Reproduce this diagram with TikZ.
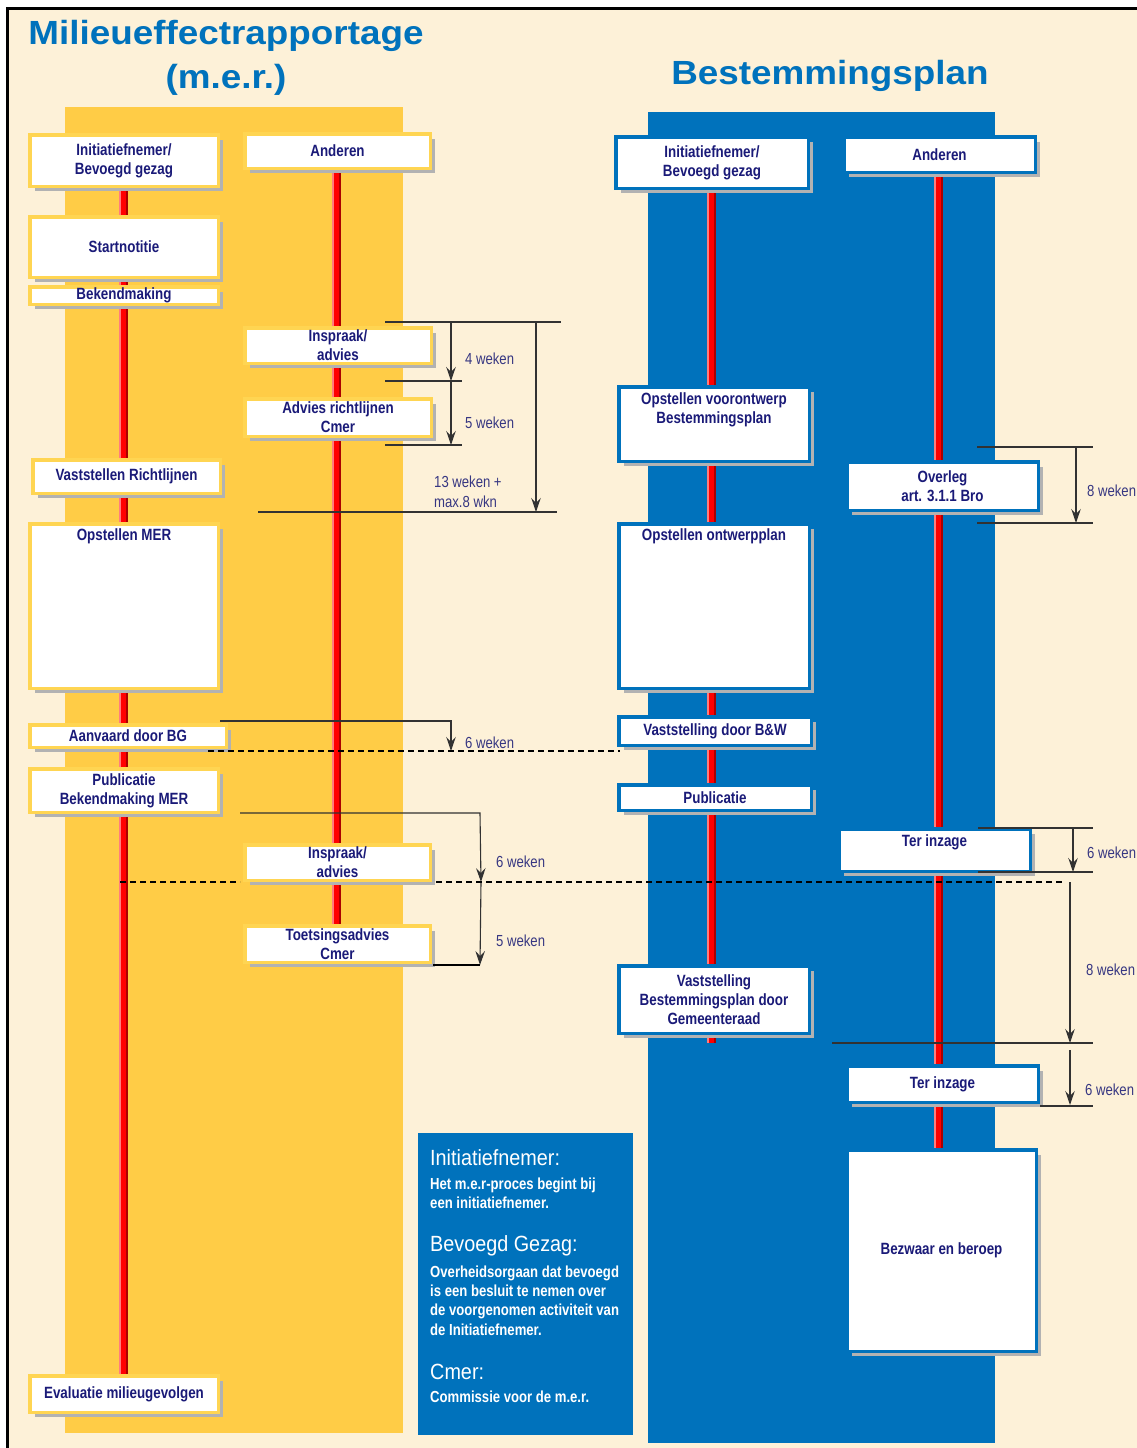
\documentclass[tikz,border=0pt]{standalone}
\usepackage{fontspec}
\setmainfont{Liberation Sans}
\newfontfamily\nf[FakeStretch=0.82]{Liberation Sans}
\newfontfamily\tf[FakeStretch=1.1]{Liberation Sans}
\newfontfamily\lf[FakeStretch=0.9]{Liberation Sans}
\usetikzlibrary{shadows,arrows.meta}
\definecolor{cream}{RGB}{253,241,216}
\definecolor{ycol}{RGB}{255,204,70}
\definecolor{yedge}{RGB}{255,213,82}
\definecolor{bcol}{RGB}{0,114,188}
\definecolor{navy}{RGB}{26,26,120}
\definecolor{wkc}{RGB}{55,55,130}
\definecolor{shade}{RGB}{178,178,178}
\definecolor{rline}{RGB}{255,0,0}
\definecolor{rdark}{RGB}{170,0,0}
\definecolor{rpink}{RGB}{255,125,125}
\definecolor{dimc}{RGB}{50,50,50}
\pgfdeclarelayer{back}
\pgfsetlayers{back,main}
\begin{document}
\begin{tikzpicture}[x=1pt,y=-1pt,
 procbox/.style={fill=white, line width=3.5pt, inner sep=1pt, align=center, text=navy,
   font=\nf\bfseries\fontsize{16.3}{19}\selectfont,
   drop shadow={shadow xshift=5pt, shadow yshift=-5pt, fill=shade, opacity=1}},
 ybox/.style={procbox, draw=yedge},
 bbox/.style={procbox, draw=bcol},
 btext/.style={inner sep=0pt, text=navy, font=\nf\bfseries\fontsize{16.3}{19}\selectfont, align=center, anchor=north},
 redlane/.style={line width=7pt, draw=rline,
   preaction={draw=rpink, line width=9pt, transform canvas={xshift=-1pt}},
   postaction={draw=rdark, line width=2pt, transform canvas={xshift=2.5pt}}},
 dim/.style={draw=dimc, line width=1.1pt},
 dimarr/.style={dim, -{Stealth[length=14pt,width=9.5pt,inset=5pt]}},
 cutline/.style={draw=black, line width=1.3pt, dash pattern=on 6pt off 4pt},
 wk/.style={text=wkc, font=\nf\fontsize{16}{20}\selectfont, anchor=west, inner sep=0pt, align=left},
 ttl/.style={text=bcol, font=\tf\bfseries\fontsize{33.5}{38}\selectfont, inner sep=0pt},
 lhead/.style={text=white, font=\lf\fontsize{22}{24}\selectfont, anchor=west, inner sep=0pt},
 lbody/.style={text=white, font=\nf\bfseries\fontsize{16}{19.3}\selectfont, anchor=west, inner sep=0pt, align=left},
]
\useasboundingbox (0,0) rectangle (1137,1448);
\begin{pgfonlayer}{back}
\fill[white] (0,0) rectangle (1137,1448);
\fill[cream] (8,9) rectangle (1137,1448);
\draw[black, line width=3pt] (7.5,1448) -- (7.5,8.5) -- (1137,8.5);
\fill[ycol] (65,107) rectangle (403,1433);
\fill[bcol] (648,112) rectangle (995,1443);
\fill[bcol] (418,1133) rectangle (633,1435);
\end{pgfonlayer}

% titles
\node[ttl] (t1) at (226,36) {Milieueffectrapportage};
\node[ttl] (t2) at (226,80) {(m.e.r.)};
\node[ttl] (t3) at (830,76) {Bestemmingsplan};

% left (m.e.r.) boxes
\node[ybox, minimum width=188.5, minimum height=51.5] (li1) at (124,160.5) {Initiatiefnemer/\\Bevoegd gezag};
\node[ybox, minimum width=185.5, minimum height=34.5] (la1) at (337.5,151) {Anderen};
\node[ybox, minimum width=188.5, minimum height=60.5] (ls) at (124,247) {Startnotitie};
\node[ybox, minimum width=188.5, minimum height=17.5] (lb) at (124,295.5) {Bekendmaking};
\node[ybox, minimum width=186.5, minimum height=35.5] (li) at (338,345.5) {Inspraak/\\advies};
\node[ybox, minimum width=186.5, minimum height=37.5] (lar) at (338,417.5) {Advies richtlijnen\\Cmer};
\node[ybox, minimum width=187.5, minimum height=33.5] (lvr) at (126.5,476.5) {Vaststellen Richtlijnen};
\node[ybox, minimum width=188.5, minimum height=164.5] (lom) at (124,606) {};
\node[btext] (lomt) at ([yshift=-6pt]lom.north) {Opstellen MER};
\node[ybox, minimum width=196.5, minimum height=22.5] (laa) at (128,736) {Aanvaard door BG};
\node[ybox, minimum width=188.5, minimum height=43.5] (lpb) at (124,790.5) {Publicatie\\Bekendmaking MER};
\node[ybox, minimum width=185.5, minimum height=35.5] (li2) at (337.5,862.5) {Inspraak/\\advies};
\node[ybox, minimum width=185.5, minimum height=36.5] (lt) at (337.5,944) {Toetsingsadvies\\Cmer};
\node[ybox, minimum width=188.5, minimum height=36.5] (lev) at (124,1394) {Evaluatie milieugevolgen};

% right (bestemmingsplan) boxes
\node[bbox, minimum width=192.5, minimum height=51.5] (ri1) at (712,162.5) {Initiatiefnemer/\\Bevoegd gezag};
\node[bbox, minimum width=191.5, minimum height=35.5] (ra1) at (939.5,154.5) {Anderen};
\node[bbox, minimum width=190.5, minimum height=74.5] (rov) at (714,424) {};
\node[btext] (rovt) at ([yshift=-7pt]rov.north) {Opstellen voorontwerp\\Bestemmingsplan};
\node[bbox, minimum width=191.5, minimum height=48.5] (rol) at (942.5,486) {Overleg\\art. 3.1.1 Bro};
\node[bbox, minimum width=190.5, minimum height=164.5] (rop) at (714,606) {};
\node[btext] (ropt) at ([yshift=-6pt]rop.north) {Opstellen ontwerpplan};
\node[bbox, minimum width=192.5, minimum height=28.5] (rvb) at (715,731) {Vaststelling door B\&W};
\node[bbox, minimum width=192.5, minimum height=25.5] (rpu) at (715,797.5) {Publicatie};
\node[bbox, minimum width=191.5, minimum height=42.5] (rti) at (934.5,850) {};
\node[btext] (rtit) at ([yshift=-7pt]rti.north) {Ter inzage};
\node[bbox, minimum width=190.5, minimum height=67.5] (rvg) at (714,999.5) {Vaststelling\\Bestemmingsplan door\\Gemeenteraad};
\node[bbox, minimum width=191.5, minimum height=36.5] (rti2) at (942.5,1084) {Ter inzage};
\node[bbox, minimum width=189.5, minimum height=201.5] (rbb) at (941.5,1250.5) {Bezwaar en beroep};

% red lanes (behind boxes)
\coordinate (r1end) at ([yshift=-8pt]rvg.south);
\begin{pgfonlayer}{back}
\draw[redlane] (li1.south) -- (li1.south |- lev.north);
\draw[redlane] (la1.south) -- (la1.south |- lt.north);
\draw[redlane] (ri1.south) -- (ri1.south |- r1end);
\draw[redlane] (ra1.south) -- (ra1.south |- rbb.north);
\end{pgfonlayer}

% legend
\node[lhead] (lg1) at (430,1158) {Initiatiefnemer:};
\node[lbody] (lg2) at (430,1193) {Het m.e.r-proces begint bij\\een initiatiefnemer.};
\node[lhead] (lg3) at (430,1246) {Bevoegd Gezag:};
\node[lbody] (lg4) at (430,1300.5) {Overheidsorgaan dat bevoegd\\is een besluit te nemen over\\de voorgenomen activiteit van\\de Initiatiefnemer.};
\node[lhead] (lg5) at (430,1372) {Cmer:};
\node[lbody] (lg6) at (430,1397) {Commissie voor de m.e.r.};

% dimension lines, left part
\coordinate (d1l) at (385,322); \coordinate (d1r) at (561,322);
\coordinate (d2l) at (385,381); \coordinate (d2r) at (462,381);
\coordinate (d3l) at (385,445); \coordinate (d3r) at (462,445);
\coordinate (d4l) at (258,512); \coordinate (d4r) at (557,512);
\draw[dim] (d1l) -- (d1r);
\draw[dim] (d2l) -- (d2r);
\draw[dim] (d3l) -- (d3r);
\draw[dim] (d4l) -- (d4r);
\coordinate (a1t) at (451,322); \coordinate (a1b) at (451,381); \coordinate (a2b) at (451,445);
\draw[dimarr] (a1t) -- (a1b);
\draw[dimarr] (a1b) -- (a2b);
\coordinate (a3t) at (536,322); \coordinate (a3b) at (536,512);
\draw[dimarr] (a3t) -- (a3b);
\node[wk] (w1) at (465,359) {4 weken};
\node[wk] (w2) at (465,423) {5 weken};
\node[wk] (w3) at (434,492) {13 weken +\\max.8 wkn};

\coordinate (e1) at (220,721); \coordinate (e2) at (451,721); \coordinate (e3) at (451,751);
\draw[dimarr] (e1) -- (e2) -- (e3);
\coordinate (f1) at (208,751); \coordinate (f2) at (620,751);
\draw[cutline] (f1) -- (f2);
\node[wk] (w4) at (465,743) {6 weken};

\coordinate (g1) at (240,813); \coordinate (g2) at (480,813); \coordinate (g3) at (481,882);
\draw[dimarr] (g1) -- (g2) -- (g3);
\coordinate (g4) at (480,965); \coordinate (g5) at (433,965);
\draw[dimarr] (g3) -- (g4);
\draw[black, line width=2pt] (g5) -- (g4);
\coordinate (h1) at (120,882); \coordinate (h2) at (240,882);
\coordinate (h3) at (436,882); \coordinate (h4) at (1063,882);
\draw[cutline] (h1) -- (h2);
\draw[cutline] (h3) -- (h4);
\node[wk] (w5) at (496,862) {6 weken};
\node[wk] (w6) at (496,941) {5 weken};

% dimension lines, right part
\coordinate (k1l) at (977,447); \coordinate (k1r) at (1093,447);
\coordinate (k2l) at (977,523); \coordinate (k2r) at (1093,523);
\draw[dim] (k1l) -- (k1r);
\draw[dim] (k2l) -- (k2r);
\coordinate (k1a) at (1076,447); \coordinate (k2a) at (1076,523);
\draw[dimarr] (k1a) -- (k2a);
\node[wk] (w7) at (1087,491) {8 weken};

\coordinate (m1l) at (978,828); \coordinate (m1r) at (1093,828);
\coordinate (m2l) at (978,872); \coordinate (m2r) at (1093,872);
\draw[dim] (m1l) -- (m1r);
\draw[dim] (m2l) -- (m2r);
\coordinate (m1a) at (1073,828); \coordinate (m2a) at (1073,872);
\draw[dimarr] (m1a) -- (m2a);
\node[wk] (w8) at (1087,853) {6 weken};

\coordinate (n1a) at (1070,882); \coordinate (n2a) at (1070,1043);
\draw[dimarr] (n1a) -- (n2a);
\coordinate (n2l) at (832,1043); \coordinate (n2r) at (1093,1043);
\draw[dim] (n2l) -- (n2r);
\node[wk] (w9) at (1086,970) {8 weken};

\coordinate (p1a) at (1070,1050); \coordinate (p2a) at (1070,1105);
\draw[dimarr] (p1a) -- (p2a);
\coordinate (p2l) at (1040,1106); \coordinate (p2r) at (1093,1106);
\draw[dim] (p2l) -- (p2r);
\node[wk] (w10) at (1085,1090) {6 weken};
\end{tikzpicture}
\end{document}
